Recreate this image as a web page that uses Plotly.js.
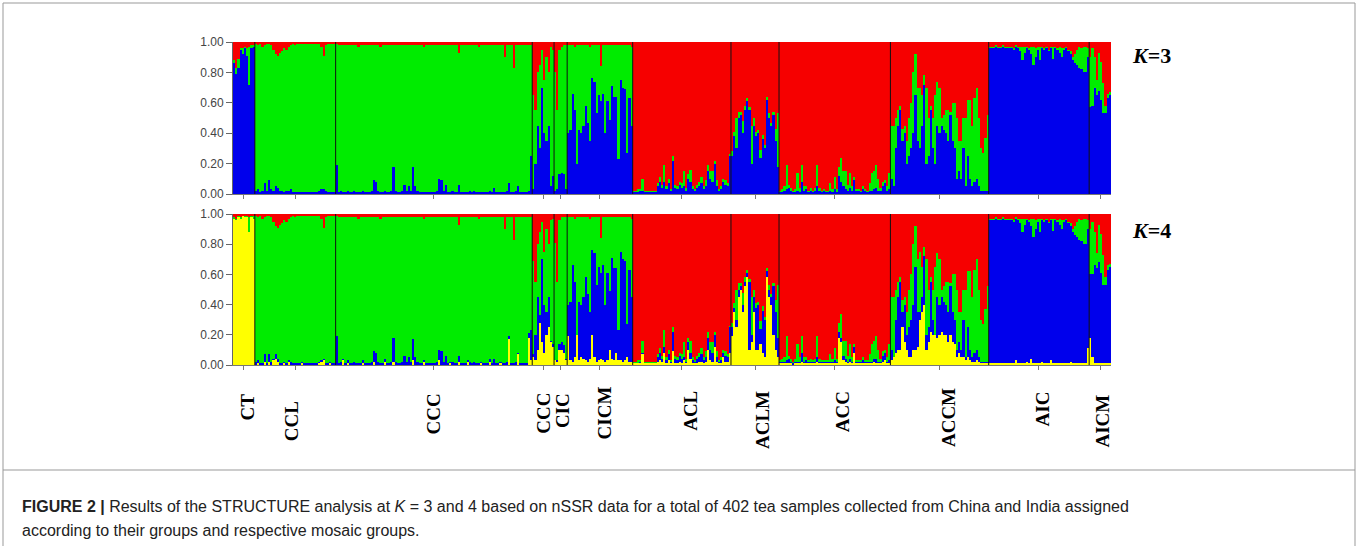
<!DOCTYPE html>
<html><head><meta charset="utf-8">
<script src="https://cdn.plot.ly/plotly-3.0.1.min.js"></script>
<style>html,body{margin:0;padding:0;background:#fff;}#chart{width:1358px;height:546px;}</style>
</head><body><div id="chart"></div>
<script>
// ---- DATA ----
const groupLabels = ['CT','CCL','CCC','CCC','CIC','CICM','ACL','ACLM','ACC','ACCM','AIC','AICM'];
const groupSizes  = [10,37,90,10,6,30,45,22,51,45,46,10];
const yTickVals = [0,0.2,0.4,0.6,0.8,1.0];

// K=3 membership (percent): blue (bottom), green (middle); red fills the rest
const k3Blue = [
 86,79,83,95,92,96,91,72,96,97,
 2,3,1,2,7,2,9,3,2,5,4,2,2,1,2,2,3,1,1,1,1,1,1,1,1,1,1,1,1,2,3,3,2,1,1,1,1,
 19,1,2,1,1,2,1,1,2,1, 1,1,2,1,1,1,2,9,8,2, 1,1,2,1,1,2,18,2,1,1, 2,6,2,5,2,18,5,2,1,1, 1,1,1,1,1,1,2,10,9,2,
 6,1,1,2,1,1,6,1,1,1, 1,2,1,2,1,1,1,1,1,1, 2,1,4,1,1,1,1,1,2,7, 1,1,2,5,1,1,1,1,2,25,
 3,20,45,30,70,40,35,45,5,12,
 2,3,13,14,13,3,
 40,42,66,55,20,42,40,45,58,47, 35,76,74,53,65,61,66,40,61,49, 71,64,64,23,75,70,69,27,63,45,
 1,1,1,2,2,1,1,1,1,1, 1,5,8,4,8,3,7,2,22,4, 3,6,4,5,2,10,8,3,2,4, 5,7,3,5,15,10,8,20,5,2, 3,8,6,5,25,
 25,38,30,50,52,40,55,61,55,20, 45,38,40,24,36,30,62,50,45,52, 35,18,
 1,1,2,3,4,2,1,1,2,1, 8,2,3,1,2,1,2,5,2,1, 2,1,1,2,1,3,1,12,8,5, 3,2,4,2,9,2,2,1,3,2, 1,2,2,3,4,2,2,5,7,2, 3,
 10,5,30,45,55,35,40,20,25,30, 40,65,35,30,45,72,20,25,55,30, 20,45,40,45,42,40,35,52,35,30, 10,15,10,30,5,25,10,5,8,10, 5,2,2,2,2,
 96,96,96,97,96,96,97,96,96,96, 96,95,97,96,94,88,93,96,95,92, 85,90,95,88,96,95,96,94,96,89, 96,95,93,90,95,96,94,92,88,86, 85,83,82,80,80,90,
 57,58,70,65,68,62,53,53,63,65
];
const k3Green = [
 2,4,6,1,4,1,5,25,2,1,
 97,95,98,95,91,97,90,95,93,87, 87,91,92,95,93,95,95,98,97,98, 98,98,98,98,98,98,98,98,98,97, 94,88,96,98,98,98,98,
 80,97,96,97,97,96,97,97,96,97, 96,97,96,97,97,97,96,89,90,96, 96,97,96,97,97,96,80,96,97,97, 96,92,96,93,96,80,93,96,97,97, 96,97,97,97,97,97,96,88,89,96,
 92,97,97,96,97,97,87,97,97,97, 97,96,97,96,97,96,97,97,97,97, 96,97,94,97,97,97,97,89,96,91, 97,82,96,93,97,97,97,97,96,73,
 62,35,35,55,25,35,55,35,92,83,
 78,52,82,83,85,95,
 58,56,32,42,78,56,58,53,40,51, 62,22,24,45,33,23,32,58,37,49, 27,34,34,75,23,28,29,71,35,52,
 1,1,2,1,8,1,1,1,1,1, 1,2,3,2,11,2,3,1,3,2, 2,2,3,10,2,3,8,2,1,2, 3,4,2,4,4,5,7,2,4,1, 2,2,3,2,1,
 3,3,20,4,2,8,3,2,2,25, 5,3,2,5,3,2,2,3,2,2, 8,35,
 1,2,3,16,2,2,1,2,12,3, 11,3,2,1,2,1,2,14,2,1, 1,1,1,5,2,8,2,6,16,10, 12,4,10,3,2,1,1,1,2,1, 1,5,12,12,15,8,2,3,2,3, 11,
 35,40,20,10,3,8,5,15,25,30, 40,27,35,40,20,6,50,25,3,20, 45,29,30,5,10,15,20,2,25,30, 40,20,25,20,45,37,52,40,55,60, 45,28,25,35,50,
 1,1,1,1,1,1,1,1,1,1, 1,1,1,1,3,9,4,1,1,5, 12,6,2,9,1,1,1,1,1,8, 1,1,4,6,1,1,1,2,2,6, 10,14,14,17,17,6,
 33,38,20,10,25,25,20,5,3,2
];

// K=4 membership (percent): yellow (bottom), blue, green; red fills the rest
const k4Yellow = [
 97,96,98,97,99,98,98,88,98,97,
 0,1,0,0,2,0,2,0,3,4, 2,0,0,1,0,2,0,0,0,0, 0,1,0,0,0,0,0,0,0,1, 2,3,0,0,1,0,0,
 0,0,0,3,0,1,0,0,0,0, 0,0,1,0,0,0,0,2,0,0, 0,0,2,0,0,0,2,0,0,0, 0,0,0,0,0,3,0,0,0,0, 2,0,0,0,0,0,0,3,0,0,
 0,0,1,0,0,0,2,0,0,0, 2,0,0,0,0,0,1,0,0,0, 2,0,0,0,0,1,0,0,0,17, 0,0,0,7,0,0,0,0,18,3,
 5,3,10,28,15,8,20,25,15,12,
 3,2,10,10,8,3,
 19,3,2,5,20,3,5,4,3,2, 4,20,5,2,3,4,3,2,3,10, 4,3,8,3,3,2,3,5,2,2,
 1,1,1,1,7,1,1,1,1,1, 1,2,3,2,8,1,3,1,9,1, 1,2,1,3,1,10,4,1,1,1, 2,2,1,2,10,3,2,12,2,1, 1,5,2,2,8,
 19,35,25,45,50,35,52,58,10,15, 35,10,10,14,8,5,58,45,40,20, 10,5,
 1,1,1,1,1,1,0,1,1,1, 2,1,1,1,1,1,1,2,1,1, 1,1,1,1,1,1,1,18,15,3, 2,1,2,1,8,1,1,1,1,1, 1,1,1,2,1,1,1,2,3,1, 1,
 3,5,8,10,10,25,15,10,5,5, 10,10,12,30,35,40,10,15,22,20, 20,18,20,22,20,20,15,20,15,14, 5,8,5,5,3,5,3,2,2,3, 2,1,1,1,1,
 1,1,1,1,1,1,1,1,1,1, 1,1,3,1,1,1,1,2,1,4, 1,1,1,1,2,1,1,1,3,1, 1,1,1,1,1,1,1,2,1,1, 1,1,1,1,1,11,
 18,5,1,1,1,1,1,1,1,1
];
const k4Blue = [
 0,0,0,0,0,0,0,0,0,0,
 2,2,1,1,5,1,5,2,1,3, 2,1,1,1,1,1,2,1,1,1, 1,1,1,1,1,1,1,1,1,1, 1,1,1,1,1,1,1,
 19,1,2,1,1,2,1,1,2,1, 1,1,2,1,1,1,2,7,8,2, 1,1,2,1,1,2,16,2,1,1, 2,6,2,5,2,14,5,2,1,1, 1,1,1,1,1,1,2,7,9,2,
 6,1,1,2,1,1,4,1,1,1, 1,2,1,2,1,1,1,1,1,1, 2,1,4,1,1,1,1,1,2,2, 1,1,2,1,1,1,1,1,3,20,
 2,17,35,5,55,32,15,20,1,2,
 0,1,4,5,5,1,
 21,39,64,50,0,39,35,41,55,45, 31,56,69,51,62,57,63,38,58,39, 67,61,56,20,72,68,66,22,61,43,
 0,0,0,1,1,0,0,0,0,0, 0,3,5,2,4,2,4,1,13,3, 2,4,3,2,1,5,4,2,1,3, 3,5,2,3,8,7,6,8,3,1, 2,3,4,3,17,
 6,3,5,5,2,5,3,3,45,5, 10,28,30,10,28,25,4,5,5,32, 25,13,
 1,1,1,2,3,1,1,1,1,1, 6,1,2,1,1,1,1,3,1,1, 1,1,1,1,1,2,1,4,3,3, 2,1,2,1,4,1,1,1,2,1, 1,1,1,2,3,1,1,4,5,1, 2,
 7,0,22,35,45,10,25,10,20,25, 30,55,23,5,10,32,10,10,33,10, 0,27,20,23,22,20,20,32,20,16, 5,7,5,25,2,20,7,3,6,7, 3,1,1,1,1,
 95,95,95,96,95,95,96,95,95,95, 95,94,94,95,93,87,92,94,94,88, 84,89,94,87,94,94,95,93,93,88, 95,94,92,89,94,95,93,90,87,85, 84,82,81,79,79,79,
 42,55,65,63,67,60,52,52,62,64
];
const k4Green = [
 1,1,1,1,0,1,1,10,1,2,
 97,95,98,96,91,98,92,96,91,85, 87,92,93,94,94,94,96,98,97,98, 98,97,98,98,98,98,98,98,98,97, 94,87,97,98,97,98,98,
 80,97,96,94,97,95,97,97,96,97, 96,97,95,97,97,97,96,89,90,96, 96,97,94,97,97,96,80,96,97,97, 96,92,96,93,96,81,93,96,97,97, 94,97,97,97,97,97,96,88,89,96,
 92,97,96,96,97,97,87,97,97,97, 95,96,97,96,97,96,96,97,97,97, 94,97,94,97,97,96,97,89,96,79, 97,82,96,90,97,97,97,97,77,75,
 62,35,35,55,25,35,55,35,80,83,
 78,52,82,83,85,94,
 58,56,32,42,78,56,58,53,40,51, 62,22,24,45,33,23,32,58,37,49, 27,34,34,75,23,28,29,71,35,52,
 1,1,2,1,8,1,1,1,1,1, 1,2,3,2,11,2,3,1,3,2, 2,2,3,10,2,3,8,2,1,2, 3,4,2,4,4,5,7,2,4,1, 2,2,3,2,1,
 3,3,20,4,2,8,3,2,2,25, 5,3,2,5,3,2,2,3,2,2, 8,35,
 1,2,3,16,2,2,1,2,12,3, 11,3,2,1,2,1,2,14,2,1, 1,1,1,5,2,8,2,6,16,10, 12,4,10,3,2,1,1,1,2,1, 1,5,12,12,15,8,2,3,2,3, 11,
 35,40,20,10,3,8,5,15,25,30, 40,27,35,40,20,6,50,25,3,20, 45,29,30,5,10,15,20,2,25,30, 40,20,25,20,45,37,52,40,55,60, 45,28,25,35,50,
 1,1,1,1,1,1,1,1,1,1, 1,1,1,1,3,9,4,1,1,5, 12,6,2,9,1,1,1,1,1,8, 1,1,4,6,1,1,1,2,2,6, 10,14,14,17,17,6,
 30,35,22,10,25,26,20,5,3,2
];

const captionLine1 = '<b>FIGURE 2 |</b> Results of the STRUCTURE analysis at <i>K</i> = 3 and 4 based on nSSR data for a total of 402 tea samples collected from China and India assigned';
const captionLine2 = 'according to their groups and respective mosaic groups.';

// ---- STYLE / LAYOUT ----
const C = {red:'#f60000', green:'#00ec00', blue:'#0000ec', yellow:'#ffff00'};
const labelXShift = [4,-4,0,0,2,5,8,7,8,9,4,2];
const labelYShift = [-2,-10,-2,-2,-2,5,0,0,0,3,0,-4];

const N = groupSizes.reduce((a,b)=>a+b,0);
const idx = Array.from({length:N},(_,i)=>i);
const pct = a => a.map(v=>v/100);
const k3Red = k3Blue.map((b,i)=>Math.max(0,100-b-k3Green[i]));
const k4Red = k4Blue.map((b,i)=>Math.max(0,100-b-k4Green[i]-k4Yellow[i]));

function bars(vals,color,xa,ya){
  return {type:'bar',x:idx,y:pct(vals),width:1,xaxis:xa,yaxis:ya,
    marker:{color:color,line:{width:0}},hoverinfo:'skip',showlegend:false};
}
const data = [
  bars(k3Blue,C.blue,'x','y'), bars(k3Green,C.green,'x','y'), bars(k3Red,C.red,'x','y'),
  bars(k4Yellow,C.yellow,'x2','y2'), bars(k4Blue,C.blue,'x2','y2'), bars(k4Green,C.green,'x2','y2'), bars(k4Red,C.red,'x2','y2')
];

const bounds=[]; const centers=[]; let acc=0;
groupSizes.forEach((s,i)=>{ centers.push(acc+(s-1)/2); acc+=s; if(i<groupSizes.length-1) bounds.push(acc-0.5); });

const L=233, R=1111, T=42, B=365, W=1358, H=546;
const px = x => (x-L)/(R-L);
const py = y => (B-y)/(B-T);

const shapes=[];
bounds.forEach(b=>{
  shapes.push({type:'line',xref:'x',yref:'y domain',x0:b,x1:b,y0:0,y1:1,line:{color:'#111',width:1},layer:'above'});
  shapes.push({type:'line',xref:'x2',yref:'y2 domain',x0:b,x1:b,y0:0,y1:1,line:{color:'#111',width:1},layer:'above'});
});
// frame: side borders run the full height, top border and a separator above the caption
const frame = {color:'#999',width:1};
shapes.push({type:'line',xref:'paper',yref:'paper',x0:px(3),x1:px(3),y0:py(3),y1:py(546),line:frame,layer:'below'});
shapes.push({type:'line',xref:'paper',yref:'paper',x0:px(1355),x1:px(1355),y0:py(3),y1:py(546),line:frame,layer:'below'});
shapes.push({type:'line',xref:'paper',yref:'paper',x0:px(3),x1:px(1355),y0:py(3),y1:py(3),line:frame,layer:'below'});
shapes.push({type:'line',xref:'paper',yref:'paper',x0:px(3),x1:px(1355),y0:py(470),y1:py(470),line:frame,layer:'below'});

const serif = 'Liberation Serif, Times New Roman, serif';
const annotations=[];
groupLabels.forEach((g,i)=>{
  annotations.push({text:'<b>'+g+'</b>',xref:'x2',yref:'paper',x:centers[i],y:py(389),xanchor:'center',yanchor:'top',
    textangle:-90,showarrow:false,xshift:labelXShift[i],yshift:labelYShift[i],
    font:{family:serif,size:19,color:'#000'}});
});
annotations.push({text:'<b><i>K</i>=3</b>',xref:'paper',yref:'paper',x:px(1130),y:py(56),xanchor:'left',yanchor:'middle',showarrow:false,
  font:{family:serif,size:22,color:'#000'}});
annotations.push({text:'<b><i>K</i>=4</b>',xref:'paper',yref:'paper',x:px(1130),y:py(230),xanchor:'left',yanchor:'middle',showarrow:false,
  font:{family:serif,size:22,color:'#000'}});
annotations.push({text:captionLine1,xref:'paper',yref:'paper',x:px(20),y:py(506),xanchor:'left',yanchor:'middle',align:'left',showarrow:false,
  font:{family:'Liberation Sans, Arial, sans-serif',size:16,color:'#222'}});
annotations.push({text:captionLine2,xref:'paper',yref:'paper',x:px(20),y:py(530),xanchor:'left',yanchor:'middle',align:'left',showarrow:false,
  font:{family:'Liberation Sans, Arial, sans-serif',size:16,color:'#222'}});

const xax = (anchor)=>({domain:[0,1],range:[-0.5,N-0.5],anchor:anchor,showline:true,linecolor:'#777',linewidth:1,
  ticks:'outside',ticklen:4,tickcolor:'#777',tickvals:centers,showticklabels:false,showgrid:false,zeroline:false,fixedrange:true});
const yax = (dom,anchor)=>({domain:dom,range:[0,1],anchor:anchor,tickvals:yTickVals,tickformat:'.2f',ticks:'outside',ticklen:6,
  tickcolor:'#666',showline:true,linecolor:'#666',linewidth:1,showgrid:false,zeroline:false,
  tickfont:{family:'Liberation Sans, Arial, sans-serif',size:12,color:'#444'}});

const layout = {
  width:W,height:H,margin:{l:L,r:W-R,t:T,b:H-B,pad:0},paper_bgcolor:'#fff',plot_bgcolor:'#fff',
  barmode:'stack',bargap:0,showlegend:false,
  xaxis:xax('y'), xaxis2:xax('y2'),
  yaxis:yax([py(194),1],'x'), yaxis2:yax([0,py(214)],'x2'),
  shapes:shapes, annotations:annotations
};
Plotly.newPlot('chart',data,layout,{staticPlot:true,displayModeBar:false});
</script></body></html>
